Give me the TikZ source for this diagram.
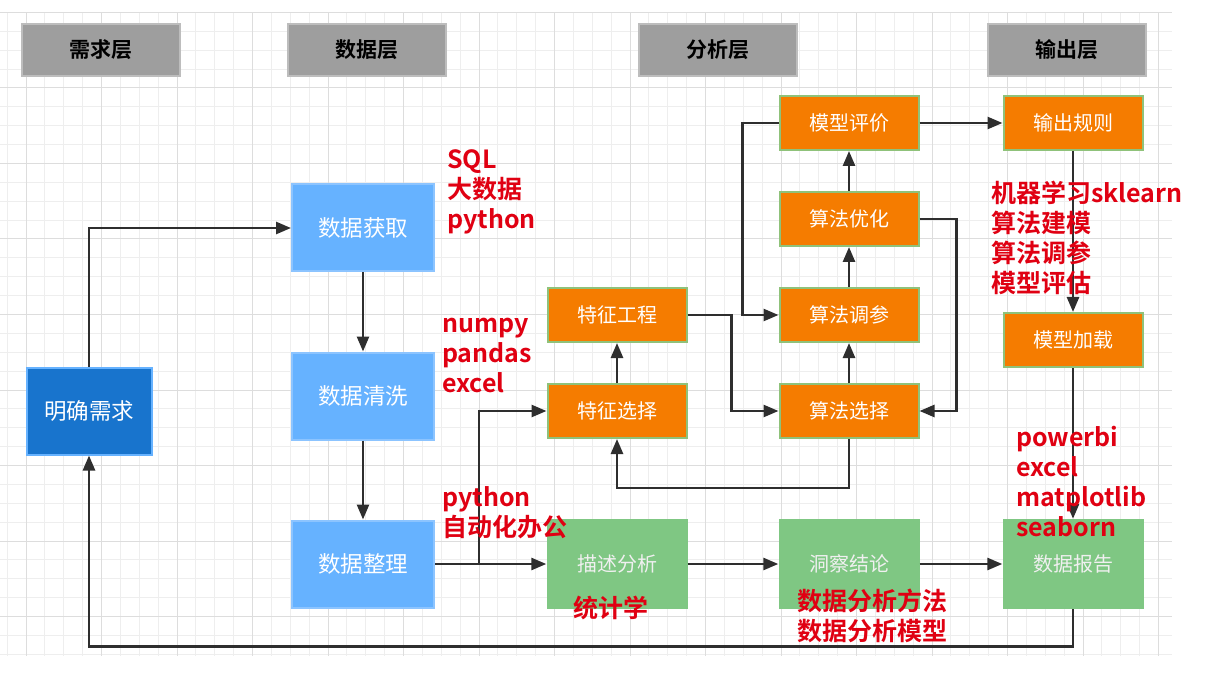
\documentclass[tikz,border=0pt]{standalone}
\usepackage{fontspec}
\setmainfont{Noto Sans CJK SC}[BoldFont={Noto Sans CJK SC Bold}]
\usetikzlibrary{arrows.meta}

\definecolor{gridminor}{HTML}{EEEEEE}
\definecolor{gridmajor}{HTML}{DDDDDD}
\definecolor{layergray}{HTML}{9E9E9E}
\definecolor{layeredge}{HTML}{BDBDBD}
\definecolor{needblue}{HTML}{1874CD}
\definecolor{datablue}{HTML}{66B2FF}
\definecolor{dataedge}{HTML}{8CC4FF}
\definecolor{algoorange}{HTML}{F57C00}
\definecolor{algoedge}{HTML}{8FC27A}
\definecolor{resultgreen}{HTML}{7FC783}
\definecolor{linegray}{HTML}{2E2E2E}
\definecolor{notered}{HTML}{E00012}

\begin{document}
\begin{tikzpicture}[x=1pt,y=-1pt,
  layerbox/.style={draw=layeredge, line width=1.5pt, fill=layergray, minimum width=158pt, minimum height=52pt, font=\fontsize{21}{25}\selectfont\bfseries, text=black},
  needbox/.style={draw=datablue, line width=2pt, fill=needblue, minimum width=125pt, minimum height=87pt, font=\fontsize{22.5}{26}\selectfont, text=white},
  databox/.style={draw=dataedge, line width=2pt, fill=datablue, minimum width=142pt, minimum height=87pt, font=\fontsize{22.5}{26}\selectfont, text=white},
  algobox/.style={draw=algoedge, line width=2pt, fill=algoorange, minimum width=139pt, minimum height=54pt, font=\fontsize{20}{24}\selectfont, text=white},
  resultbox/.style={fill=resultgreen, minimum width=141pt, minimum height=90pt, font=\fontsize{20}{24}\selectfont, text=white!94!black},
  arr/.style={draw=linegray, line width=2.6pt, -{Triangle[length=15pt,width=12pt]}},
  note/.style={text=notered, font=\fontsize{25}{30}\selectfont\bfseries, align=left, anchor=west, inner sep=0pt}]
\useasboundingbox (0,0) rectangle (1207,676);
\fill[white] (0,0) rectangle (1207,676);

% grid
\foreach \i in {0,...,61}{
  \pgfmathsetmacro\gx{7.125+18.875*\i}
  \draw[gridminor, line width=1pt] (\gx,12.5) -- (\gx,656);
}
\foreach \j in {0,...,34}{
  \pgfmathsetmacro\gy{12.5+18.875*\j}
  \draw[gridminor, line width=1pt] (0,\gy) -- (1172,\gy);
}
\foreach \i in {0,...,15}{
  \pgfmathsetmacro\gx{26+75.5*\i}
  \draw[gridmajor, line width=1pt] (\gx,12.5) -- (\gx,656);
}
\foreach \j in {0,...,8}{
  \pgfmathsetmacro\gy{12.5+75.5*\j}
  \draw[gridmajor, line width=1pt] (0,\gy) -- (1172,\gy);
}

% layers
\node[layerbox] (reqlayer) at (101,50) {需求层};
\node[layerbox] (datalayer) at (367,50) {数据层};
\node[layerbox] (analayer) at (718,50) {分析层};
\node[layerbox] (outlayer) at (1067,50) {输出层};

% nodes
\node[needbox] (need) at (89,411) {明确需求};
\node[databox] (fetch) at (363,228) {数据获取};
\node[databox] (clean) at (363,396) {数据清洗};
\node[databox] (tidy) at (363,564) {数据整理};

\node[algobox] (feng) at (617,315) {特征工程};
\node[algobox] (fsel) at (617,411) {特征选择};
\node[algobox] (meval) at (849,123) {模型评价};
\node[algobox] (aopt) at (849,219) {算法优化};
\node[algobox] (atune) at (849,315) {算法调参};
\node[algobox] (asel) at (849,411) {算法选择};
\node[algobox] (rule) at (1073,123) {输出规则};
\node[algobox] (mload) at (1073,340) {模型加载};

\node[resultbox] (desc) at (617,564) {描述分析};
\node[resultbox] (insight) at (849,564) {洞察结论};
\node[resultbox] (report) at (1073,564) {数据报告};

% connectors
\coordinate (split) at (479,564);
\draw[arr] (need.north) |- (fetch.west);
\draw[arr] (fetch) -- (clean);
\draw[arr] (clean) -- (tidy);
\draw[arr] (tidy) -- (desc);
\draw[arr] (split) |- (fsel.west);
\draw[arr] (fsel) -- (feng);
\draw[arr] (feng.east) -- ++(44,0) |- (asel.west);
\draw[arr] (asel) -- (atune);
\draw[arr] (atune) -- (aopt);
\draw[arr] (aopt) -- (meval);
\draw[arr] (aopt.east) -- ++(37,0) |- (asel.east);
\draw[arr] (meval.west) -- ++(-36,0) |- (atune.west);
\draw[arr] (meval) -- (rule);
\draw[arr] (rule) -- (mload);
\draw[arr] (mload) -- (report);
\draw[arr] (asel.south) -- ++(0,49) -| (fsel.south);
\draw[arr] (desc) -- (insight);
\draw[arr] (insight) -- (report);
\draw[arr] (report.south) -- ++(0,37) -| (need.south);

% tool notes
\node[note] (sqlnote) at (447,192) {SQL\\大数据\\python};
\node[note] (pdnote) at (442,355) {numpy\\pandas\\excel};
\node[note] (officenote) at (442,513) {python\\自动化办公};
\node[note] (statnote) at (573,608) {统计学};
\node[note] (mlnote) at (991,238) {机器学习sklearn\\算法建模\\算法调参\\模型评估};
\node[note] (viznote) at (1016,482) {powerbi\\excel\\matplotlib\\seaborn};
\node[note] (methodnote) at (797,616) {数据分析方法\\数据分析模型};
\end{tikzpicture}
\end{document}
